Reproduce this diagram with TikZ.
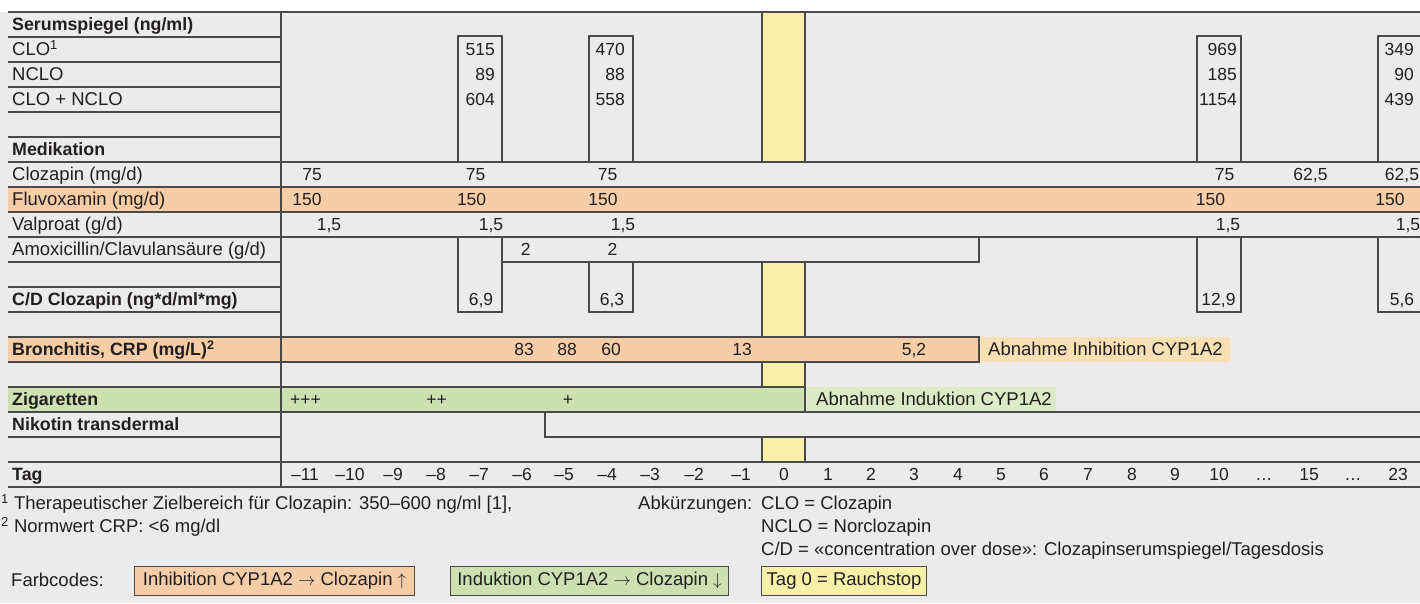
\documentclass[tikz,border=0pt]{standalone}
\usepackage{fontspec}
\setmainfont{Liberation Sans}
\definecolor{bg}{HTML}{EBEBEC}
\definecolor{orng}{HTML}{F6CDA6}
\definecolor{lorng}{HTML}{F9DFB4}
\definecolor{grn}{HTML}{CBE1B1}
\definecolor{lgrn}{HTML}{DCEBC7}
\definecolor{yel}{HTML}{F7F0A9}
\definecolor{ln}{HTML}{4A4A4A}
\definecolor{txt}{HTML}{231F20}
\newcommand{\mydots}{.\kern0.5pt.\kern0.5pt.}
\tikzset{
  gl/.style={draw=ln, line width=1.2pt},
  lbl/.style={anchor=base west, inner sep=0pt, text=txt, font=\fontsize{18.5}{20}\selectfont},
  lblb/.style={lbl, font=\fontsize{17.8}{20}\selectfont\bfseries},
  val/.style={anchor=base, inner sep=0pt, text=txt, font=\fontsize{17.5}{20}\selectfont},
  valr/.style={val, anchor=base east},
  legbox/.style={draw=ln, line width=1.2pt, anchor=north west, inner sep=0pt, minimum height=29pt, text=txt, font=\fontsize{18.5}{20}\selectfont}
}
\begin{document}
\begin{tikzpicture}[x=1pt,y=-1pt]
\useasboundingbox (0,0) rectangle (1420,603);
\fill[white] (0,0) rectangle (1420,12);
\fill[bg] (0,12) rectangle (1420,603);
% coloured bands
\fill[orng] (8,187) rectangle (1420,212);
\fill[orng] (8,337) rectangle (979,362);
\fill[lorng] (979,337) rectangle (1230,362);
\fill[grn] (8,387) rectangle (805,412);
\fill[lgrn] (805,387) rectangle (1056,412);
\foreach \a/\b in {12/162, 262/337, 362/387, 437/462} {
  \fill[yel] (762,\a) rectangle (805,\b);
  \draw[gl] (762,\a) -- (762,\b) (805,\a) -- (805,\b);
}
% label column lines
\foreach \i in {0,...,19} \draw[gl] (8,{12+25*\i}) -- (281,{12+25*\i});
% full width lines
\foreach \y in {12,162,187,212,237,412,462,487} \draw[gl] (281,\y) -- (1420,\y);
% bars
\draw[gl] (281,337) -- (979,337) -- (979,362) -- (281,362);
\draw[gl] (281,387) -- (805,387) -- (805,412);
% serum boxes
\draw[gl] (458,162) -- (458,36) -- (502,36) -- (502,162);
\draw[gl] (589,162) -- (589,36) -- (633,36) -- (633,162);
\draw[gl] (1197,162) -- (1197,36) -- (1241,36) -- (1241,162);
\draw[gl] (1378,162) -- (1378,36) -- (1420,36);
% C/D boxes
\draw[gl] (458,237) -- (458,312) -- (502,312) -- (502,237);
\draw[gl] (589,262) -- (589,312) -- (633,312) -- (633,262);
\draw[gl] (1197,237) -- (1197,312) -- (1241,312) -- (1241,237);
\draw[gl] (1378,237) -- (1378,312) -- (1420,312);
% amoxicillin
\draw[gl] (502,262) -- (979,262) -- (979,237);
% nicotine
\draw[gl] (545,412) -- (545,437) -- (1420,437);
% main vertical
\draw[draw=ln, line width=1.8pt] (281,12) -- (281,487);

% labels
\node[lblb] (l0) at (12,30.8) {Serumspiegel (ng/ml)};
\node[lbl] (l1) at (12,55.8) {CLO\textsuperscript{1}};
\node[lbl] (l2) at (12,80.8) {NCLO};
\node[lbl] (l3) at (12,105.8) {CLO + NCLO};
\node[lblb] (l5) at (12,155.8) {Medikation};
\node[lbl] (l6) at (12,180.8) {Clozapin (mg/d)};
\node[lbl] (l7) at (12,205.8) {Fluvoxamin (mg/d)};
\node[lbl] (l8) at (12,230.8) {Valproat (g/d)};
\node[lbl] (l9) at (12,255.8) {Amoxicillin/Clavulansäure (g/d)};
\node[lblb] (l11) at (12,305.8) {C/D Clozapin (ng*d/ml*mg)};
\node[lblb] (l13) at (12,355.8) {Bronchitis, CRP (mg/L)\textsuperscript{2}};
\node[lblb] (l15) at (12,405.8) {Zigaretten};
\node[lblb] (l16) at (12,430.8) {Nikotin transdermal};
\node[lblb] (l18) at (12,480.8) {Tag};

% serum values
\foreach \x/\a/\b/\c [count=\n] in {495/515/89/604, 625/470/88/558, 1237/969/185/1154, 1414/349/90/439} {
  \node[valr] (sa\n) at (\x,55.8) {\a};
  \node[valr] (sb\n) at (\x,80.8) {\b};
  \node[valr] (sc\n) at (\x,105.8) {\c};
}
% clozapin
\foreach \x/\t [count=\n] in {312/75, 475.5/75, 607.5/75, 1224.5/75, 1310.5/{62,5}, 1402/{62,5}}
  \node[val] (cz\n) at (\x,180.8) {\t};
% fluvoxamin
\foreach \x [count=\n] in {307, 471.6, 603, 1210.5, 1390}
  \node[val] (fv\n) at (\x,205.8) {150};
% valproat
\foreach \x [count=\n] in {329, 491, 623, 1228, 1408}
  \node[val] (vp\n) at (\x,230.8) {1,5};
% amoxicillin
\node[val] (am1) at (525.7,255.8) {2};
\node[val] (am2) at (612.5,255.8) {2};
% C/D
\foreach \x/\t [count=\n] in {481/{6,9}, 612/{6,3}, 1218.5/{12,9}, 1402/{5,6}}
  \node[val] (cd\n) at (\x,305.8) {\t};
% CRP
\foreach \x/\t [count=\n] in {524/83, 567/88, 611/60, 742/13, 914/{5,2}}
  \node[val] (crp\n) at (\x,355.8) {\t};
\node[lbl] (inh) at (988,355.8) {Abnahme Inhibition CYP1A2};
% cigarettes
\node[val] (zg1) at (305.5,405.8) {+++};
\node[val] (zg2) at (436.5,405.8) {++};
\node[val] (zg3) at (568,405.8) {+};
\node[lbl] (ind) at (816,405.8) {Abnahme Induktion CYP1A2};
% days
\foreach \x/\t [count=\n] in {305/–11, 350/–10, 393/–9, 436/–8, 479/–7, 522/–6, 564/–5, 607/–4, 650/–3, 694/–2, 741/–1, 784/0, 828/1, 871/2, 914/3, 958/4, 1001/5, 1044/6, 1088/7, 1132/8, 1175/9, 1219/10, 1264/\mydots, 1309/15, 1353/\mydots, 1398/23}
  \node[val] (d\n) at (\x,480.8) {\t};

% footnotes
\node[lbl] (fn1) at (1,509.5) {\textsuperscript{1} Therapeutischer Zielbereich für Clozapin: 350–600 ng/ml [1],};
\node[lbl] (fn2) at (1,532.5) {\textsuperscript{2} Normwert CRP: <6 mg/dl};
\node[lbl] (abk) at (638,509.5) {Abkürzungen:};
\node[lbl] (ab1) at (761,509.5) {CLO = Clozapin};
\node[lbl] (ab2) at (761,532.5) {NCLO = Norclozapin};
\node[lbl] (ab3) at (761,555.5) {C/D = «concentration over dose»: Clozapinserumspiegel/Tagesdosis};
\node[lbl] (fc) at (11,586) {Farbcodes:};
\node[legbox, fill=orng, minimum width=280pt] (lg1) at (134,566) {Inhibition CYP1A2 $\rightarrow$ Clozapin $\uparrow$};
\node[legbox, fill=grn, minimum width=278pt] (lg2) at (450,566) {Induktion CYP1A2 $\rightarrow$ Clozapin $\downarrow$};
\node[legbox, fill=yel, minimum width=165pt] (lg3) at (761,566) {Tag 0 = Rauchstop};
\end{tikzpicture}
\end{document}
